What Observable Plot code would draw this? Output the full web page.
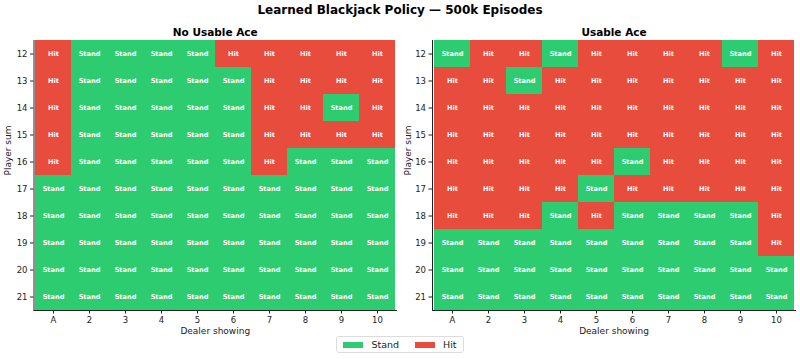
<!DOCTYPE html>
<html>
<head>
<meta charset="utf-8">
<script src="https://cdn.jsdelivr.net/npm/d3@7"></script>
<script src="https://cdn.jsdelivr.net/npm/@observablehq/plot@0.6"></script>
<style>
  body { margin: 0; background: #fff; font-family: "DejaVu Sans", sans-serif; }
  #title { height: 20px; line-height: 20px; text-align: center; font-weight: bold; font-size: 12px; color: #000; }
  #charts { display: flex; width: 800px; }
  #legend { display: flex; justify-content: center; margin-top: -2px; }
  .lg { display: flex; align-items: center; border: 1px solid #ddd; border-radius: 3px; padding: 2px 6px; font-size: 9.5px; color: #222; height: 11px; }
  .sw { width: 20px; height: 6px; margin-right: 8px; }
  .item { display: flex; align-items: center; margin-right: 16px; }
  .item:last-child { margin-right: 0; }
</style>
</head>
<body>
<div id="title">Learned Blackjack Policy — 500k Episodes</div>
<div id="charts"></div>
<div id="legend"></div>
<script>
// Dealer showing card (columns) and player sum (rows)
const dealerCards = ["A", "2", "3", "4", "5", "6", "7", "8", "9", "10"];
const playerSums = [12, 13, 14, 15, 16, 17, 18, 19, 20, 21];
const actions = ["Stand", "Hit"];
const actionColors = ["#2ecc71", "#e74c3c"];

// Policy per player sum, one letter per dealer card: S = Stand, H = Hit
const noUsableAce = [
  "HSSSSHHHHH", // 12
  "HSSSSSHHHH", // 13
  "HSSSSSHHSH", // 14
  "HSSSSSHHHH", // 15
  "HSSSSSHSSS", // 16
  "SSSSSSSSSS", // 17
  "SSSSSSSSSS", // 18
  "SSSSSSSSSS", // 19
  "SSSSSSSSSS", // 20
  "SSSSSSSSSS"  // 21
];
const usableAce = [
  "SHHSHHHHSH", // 12
  "HHSHHHHHHH", // 13
  "HHHHHHHHHH", // 14
  "HHHHHHHHHH", // 15
  "HHHHHSHHHH", // 16
  "HHHHSHHHHH", // 17
  "HHHSHSSSSH", // 18
  "SSSSSSSSSH", // 19
  "SSSSSSSSSS", // 20
  "SSSSSSSSSS"  // 21
];

function toTable(rows) {
  const out = [];
  rows.forEach((row, i) => {
    dealerCards.forEach((d, j) => {
      out.push({ dealer: d, player: playerSums[i], action: row[j] === "S" ? "Stand" : "Hit" });
    });
  });
  return out;
}

function panel(title, rows, opts) {
  const data = toTable(rows);
  return Plot.plot({
    width: 400,
    height: 318,
    marginTop: 20,
    marginBottom: 28,
    marginLeft: opts.ml,
    marginRight: opts.mr,
    style: { fontFamily: "DejaVu Sans, sans-serif", fontSize: "8.5px", color: "#222", background: "white" },
    x: { domain: dealerCards, padding: 0, label: null, tickSize: 3.5, tickPadding: 3, line: true },
    y: { domain: playerSums, padding: 0, label: null, tickSize: 3.5, tickPadding: 3, line: true },
    color: { domain: actions, range: actionColors },
    marks: [
      Plot.cell(data, { x: "dealer", y: "player", fill: "action" }),
      Plot.text(data, { x: "dealer", y: "player", text: "action", fill: "white", fontWeight: "bold", fontSize: 6.6 }),
      Plot.text([title], { frameAnchor: "top", lineAnchor: "middle", dy: -8, fontWeight: "bold", fontSize: 10.5, fill: "black" }),
      Plot.text(["Dealer showing"], { frameAnchor: "bottom", lineAnchor: "middle", dy: 20.5, fontSize: 9, fill: "#222" }),
      Plot.text(["Player sum"], { frameAnchor: "left", lineAnchor: "middle", dx: -opts.lo, rotate: -90, fontSize: 9, fill: "#222" })
    ]
  });
}

const charts = document.getElementById("charts");
charts.appendChild(panel("No Usable Ace", noUsableAce, { ml: 33.5, mr: 4, lo: 25.5 }));
charts.appendChild(panel("Usable Ace", usableAce, { ml: 32, mr: 5, lo: 24 }));

const legend = document.getElementById("legend");
const box = document.createElement("div");
box.className = "lg";
actions.forEach((a, i) => {
  const it = document.createElement("div");
  it.className = "item";
  const sw = document.createElement("div");
  sw.className = "sw";
  sw.style.background = actionColors[i];
  const lb = document.createElement("span");
  lb.textContent = a;
  it.appendChild(sw);
  it.appendChild(lb);
  box.appendChild(it);
});
legend.appendChild(box);
</script>
</body>
</html>
